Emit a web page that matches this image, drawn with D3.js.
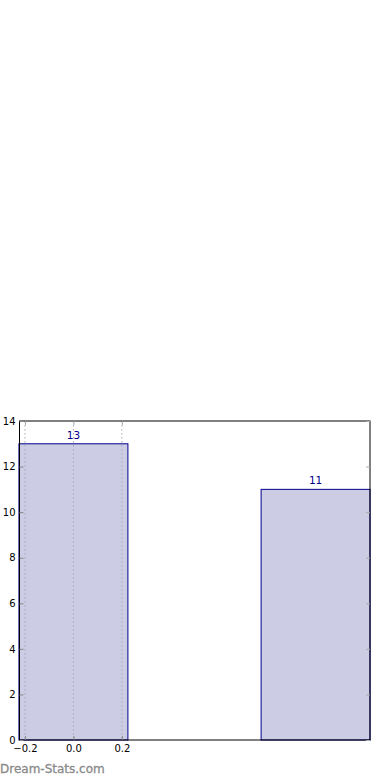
<!DOCTYPE html>
<html><head><meta charset="utf-8">
<script src="https://cdn.jsdelivr.net/npm/d3@7"></script>
<style>body{margin:0;background:#fff}svg{display:block;font-family:"DejaVu Sans",sans-serif}</style>
</head><body>
<svg id="c" width="390" height="780"></svg>
<script>
const categories = [0, 1];
const values = [13, 11];
const yTicks = [0, 2, 4, 6, 8, 10, 12, 14];
const xTicks = [-0.2, 0.0, 0.2];
const barWidth = 0.45;

const svg = d3.select("#c");
const L = 19.5, R = 370, T = 421, B = 740;
const x = d3.scaleLinear().domain([-0.2227, 1.2247]).range([L, R]);
const y = d3.scaleLinear().domain([0, 14]).range([B, T]);

// bars
svg.append("g").selectAll("rect").data(categories).join("rect")
  .attr("x", (d) => x(d - barWidth / 2))
  .attr("width", x(barWidth) - x(0))
  .attr("y", (d, i) => y(values[i]))
  .attr("height", (d, i) => y(0) - y(values[i]))
  .attr("fill", "#ccccE5")
  .attr("stroke", "#00008b").attr("stroke-width", 1);

// dotted grid
svg.append("g").selectAll("line").data(xTicks).join("line")
  .attr("x1", d => x(d)).attr("x2", d => x(d)).attr("y1", T).attr("y2", B)
  .attr("stroke", "#a8a8b8").attr("stroke-width", 1).attr("stroke-dasharray", "1.5,2.5");

// value labels
svg.append("g").selectAll("text").data(categories).join("text")
  .attr("x", d => x(d)).attr("y", (d, i) => y(values[i]) - 5)
  .attr("text-anchor", "middle").attr("font-size", 10.5).attr("fill", "#00008b")
  .text((d, i) => values[i]);

// frame
svg.append("rect").attr("x", L).attr("y", T).attr("width", R - L).attr("height", B - T)
  .attr("fill", "none").attr("stroke", "#000").attr("stroke-width", 1);

// y axis
const yAxisL = d3.axisLeft(y).tickValues(yTicks).tickSize(-4).tickPadding(4).tickFormat(d3.format("d"));
const gy = svg.append("g").attr("transform", `translate(${L},0)`).call(yAxisL);
gy.select(".domain").remove();
gy.selectAll(".tick line").attr("stroke", "#888");
gy.selectAll(".tick text").attr("font-size", 10).attr("fill", "#000").attr("font-family", "DejaVu Sans");
const yAxisR = d3.axisRight(y).tickValues(yTicks).tickSize(-4).tickFormat("");
const gyr = svg.append("g").attr("transform", `translate(${R},0)`).call(yAxisR);
gyr.select(".domain").remove();
gyr.selectAll(".tick line").attr("stroke", "#aaa");

// x axis
const xAxisB = d3.axisBottom(x).tickValues(xTicks).tickSize(-4).tickPadding(5)
  .tickFormat(d => d3.format(".1f")(d).replace("-", "\u2212"));
const gx = svg.append("g").attr("transform", `translate(0,${B})`).call(xAxisB);
gx.select(".domain").remove();
gx.selectAll(".tick line").attr("stroke", "#888");
gx.selectAll(".tick text").attr("font-size", 10).attr("fill", "#000").attr("font-family", "DejaVu Sans");
const xAxisT = d3.axisTop(x).tickValues(xTicks).tickSize(-4).tickFormat("");
const gxt = svg.append("g").attr("transform", `translate(0,${T})`).call(xAxisT);
gxt.select(".domain").remove();
gxt.selectAll(".tick line").attr("stroke", "#aaa");

// watermark
svg.append("text").attr("x", 0).attr("y", 773).attr("font-size", 12).attr("font-weight", "normal")
  .attr("fill", "#8a8a8a").attr("stroke", "#8a8a8a").attr("stroke-width", 0.3).text("Dream-Stats.com");
</script>
</body></html>
